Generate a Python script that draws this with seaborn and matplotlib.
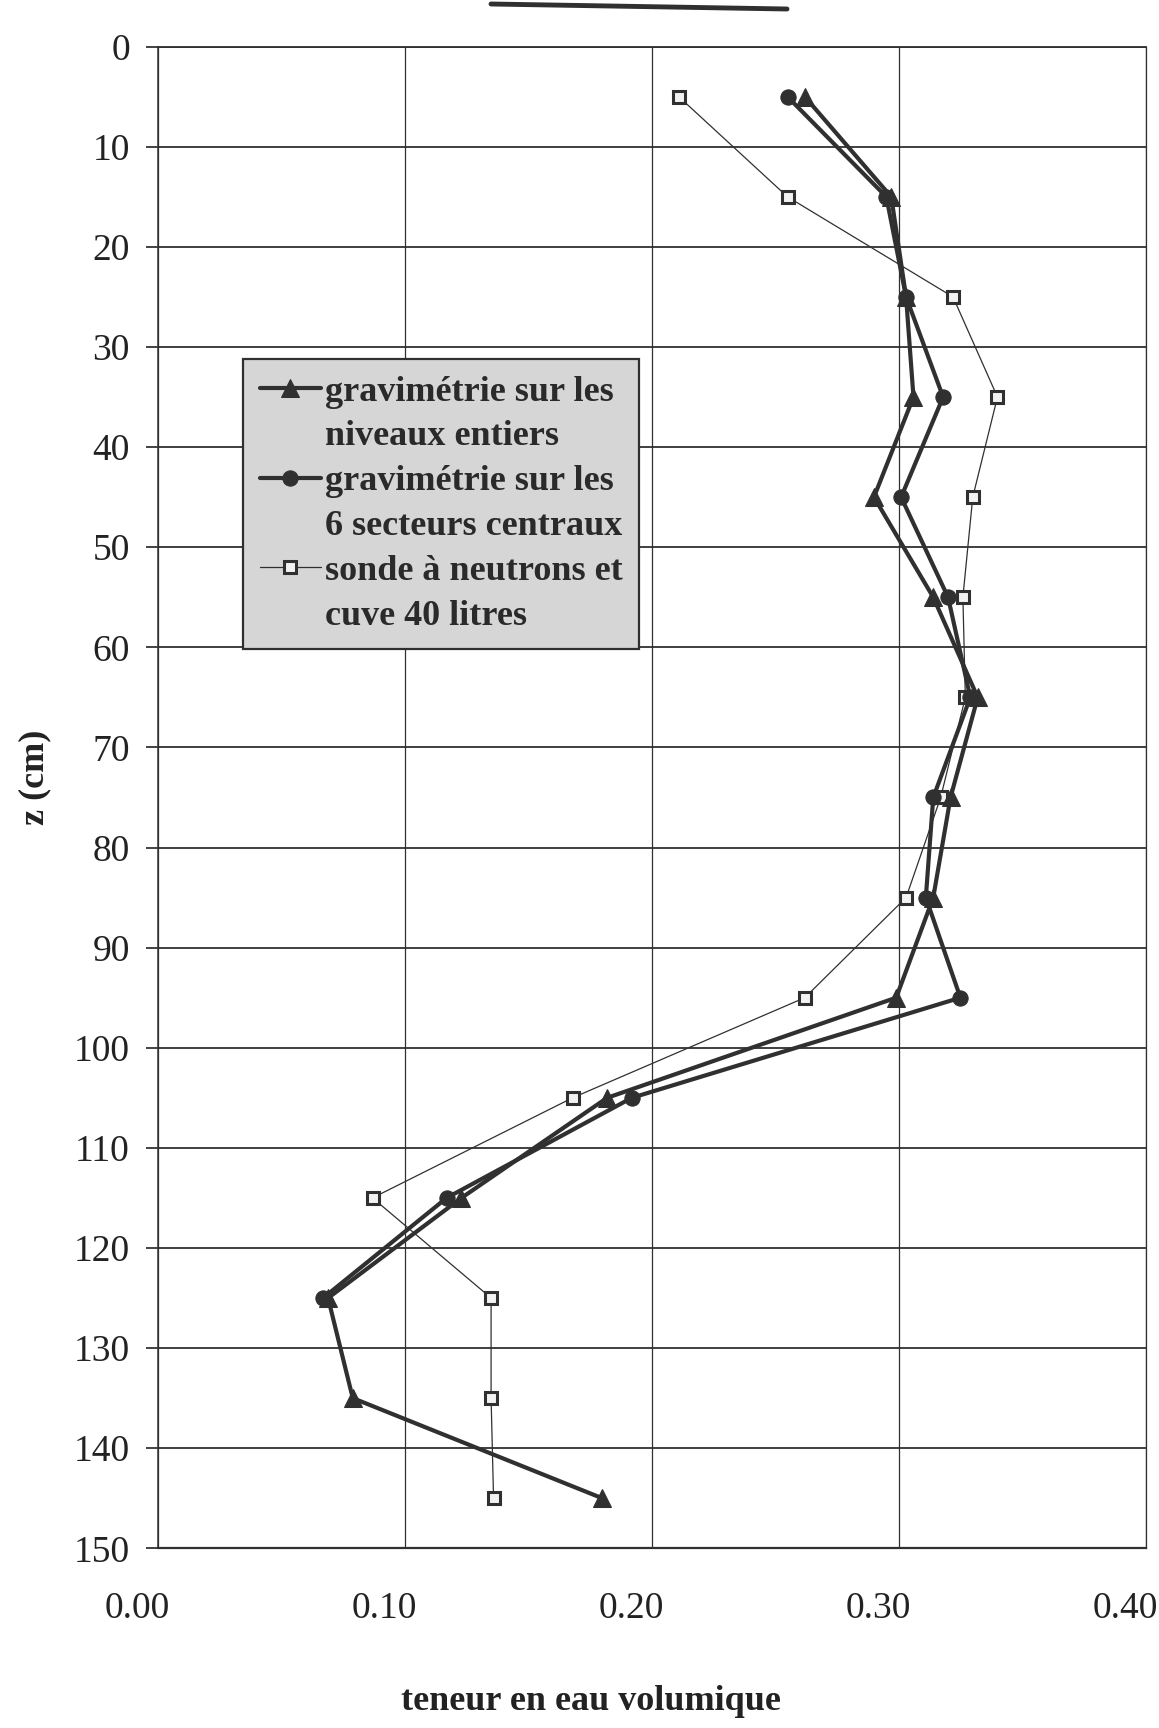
import numpy as np
import pandas as pd
import seaborn as sns
import matplotlib.pyplot as plt
from matplotlib.lines import Line2D
from matplotlib.transforms import ScaledTranslation

# depths (cm) of the measurement levels
depth = [5, 15, 25, 35, 45, 55, 65, 75, 85, 95, 105, 115, 125, 135, 145]

# volumetric water content
grav_niveaux = [0.262, 0.297, 0.303, 0.306, 0.290, 0.314, 0.332, 0.321,
                0.314, 0.299, 0.182, 0.123, 0.069, 0.079, 0.180]
grav_secteurs = [0.255, 0.295, 0.303, 0.318, 0.301, 0.320, 0.329, 0.314,
                 0.311, 0.325, 0.192, 0.117, 0.067]
sonde = [0.211, 0.255, 0.322, 0.340, 0.330, 0.326, 0.327, 0.317,
         0.303, 0.262, 0.168, 0.087, 0.135, 0.135, 0.136]

legend_lines = [["gravimétrie sur les", "niveaux entiers"],
                ["gravimétrie sur les", "6 secteurs centraux"],
                ["sonde à neutrons et", "cuve 40 litres"]]

x_ticks = [0.0, 0.1, 0.2, 0.3, 0.4]
y_ticks = list(range(0, 151, 10))

df1 = pd.DataFrame({"z": depth, "theta": grav_niveaux})
df2 = pd.DataFrame({"z": depth[:len(grav_secteurs)], "theta": grav_secteurs})
df3 = pd.DataFrame({"z": depth, "theta": sonde})

sns.set_style("white")
plt.rcParams["font.family"] = ["Liberation Serif", "DejaVu Serif"]

ink = "#303030"
fig = plt.figure(figsize=(11.59, 17.28), dpi=100)
ax = fig.add_axes([0.136, 0.104, 0.8525, 0.869])

sns.lineplot(data=df1, x="theta", y="z", sort=False, estimator=None, ax=ax,
             color=ink, linewidth=3.0, marker="^", markersize=13,
             markeredgecolor=ink, label="l1", zorder=4)
sns.lineplot(data=df2, x="theta", y="z", sort=False, estimator=None, ax=ax,
             color=ink, linewidth=3.0, marker="o", markersize=11,
             markeredgecolor=ink, label="l2", zorder=4)
sns.lineplot(data=df3, x="theta", y="z", sort=False, estimator=None, ax=ax,
             color=ink, linewidth=0.9, marker="s", markersize=9,
             markerfacecolor="#f2f2f2", markeredgecolor=ink,
             markeredgewidth=2.2, label="l3", zorder=3)

ax.set_xlim(0, 0.40)
ax.set_ylim(150, 0)
ax.set_xticks(x_ticks)
ax.set_xticklabels([f"{v:.2f}" for v in x_ticks])
ax.set_yticks(y_ticks)
ax.set_xlabel("")
ax.set_ylabel("")

ax.set_axisbelow(True)
ax.yaxis.grid(True, color=ink, linewidth=1.3)
ax.xaxis.grid(True, color=ink, linewidth=0.9)
for side in ["left", "right", "top", "bottom"]:
    ax.spines[side].set_visible(True)
    ax.spines[side].set_color(ink)
ax.spines["left"].set_linewidth(1.1)
ax.spines["right"].set_linewidth(0.9)
ax.spines["top"].set_linewidth(1.3)
ax.spines["bottom"].set_linewidth(1.6)

ax.tick_params(axis="y", length=9, width=1.2, direction="out", pad=11,
               labelsize=27, colors="#222222", left=True)
ax.tick_params(axis="x", length=0, pad=31, labelsize=27, colors="#222222",
               bottom=True)

# the scan is slightly tilted: bottom labels sit a little to the left
shift = ScaledTranslation(-0.2, 0, fig.dpi_scale_trans)
for lab in ax.get_xticklabels():
    lab.set_transform(lab.get_transform() + shift)

fig.text(0.030, 0.550, "z (cm)", rotation=90, ha="center", va="center",
         fontsize=26, fontweight="bold", color="#222222")
fig.text(0.510, 0.0155, "teneur en eau volumique", ha="center", va="center",
         fontsize=26, fontweight="bold", color="#222222")

# the cut-off underlined title at the very top of the scan
fig.add_artist(Line2D([491 / 1159, 787 / 1159], [1 - 4 / 1728, 1 - 9 / 1728],
                      color=ink, linewidth=3.5, transform=fig.transFigure))

# legend: each entry on two lines, marker on the first one only
handles, _ = ax.get_legend_handles_labels()
blank = Line2D([], [], linestyle="none", marker=None)
leg_handles, leg_labels = [], []
for h, lines in zip(handles, legend_lines):
    leg_handles += [h, blank]
    leg_labels += lines

leg = ax.legend(leg_handles, leg_labels, loc="center",
                bbox_to_anchor=(0.3805, 0.7083), bbox_transform=fig.transFigure,
                prop={"family": "Liberation Serif", "weight": "bold", "size": 26},
                handlelength=1.7, handletextpad=0.1, labelspacing=0.32,
                borderpad=0.45, fancybox=False, framealpha=1,
                facecolor="#d6d6d6", edgecolor=ink)
leg.get_frame().set_linewidth(1.6)
for t in leg.get_texts():
    t.set_color("#2a2a2a")

plt.savefig("out.png", dpi=100)
